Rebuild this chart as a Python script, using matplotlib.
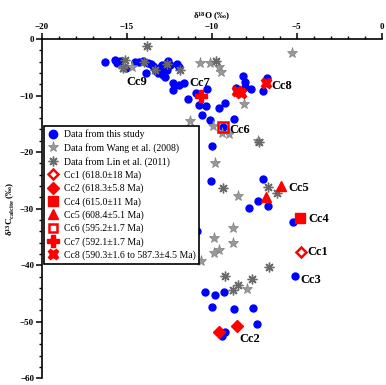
import matplotlib
matplotlib.use("Agg")
import matplotlib.pyplot as plt
from matplotlib.ticker import MultipleLocator
from matplotlib.lines import Line2D

plt.rcParams['font.family'] = ['Liberation Serif', 'DejaVu Serif']
plt.rcParams['mathtext.fontset'] = 'custom'
plt.rcParams['mathtext.rm'] = 'Liberation Serif'
plt.rcParams['mathtext.bf'] = 'Liberation Serif:bold'

# Data from this study
study_x = [-16.3, -15.7, -15.55, -15.4, -15.05, -14.5, -14.3, -14.05, -13.85, -13.75,
           -13.6, -13.45, -13.35, -13.25, -13.15, -13.05, -13.0, -12.9, -12.95, -12.85,
           -12.75, -12.65, -12.65, -12.6, -12.45, -12.05, -11.95, -12.3, -11.95, -11.65,
           -12.25, -11.4, -10.95, -10.75, -10.35, -10.6, -10.1, -10.25, -9.55, -9.2,
           -8.67, -8.14, -8.05, -8.05, -7.7, -7.0, -6.76, -8.55, -9.32, -9.96,
           -10.06, -6.96, -7.8, -7.26, -6.67, -10.88, -5.2, -5.1, -10.4, -9.8,
           -9.28, -10.0, -8.67, -7.59, -7.35, -9.22, -9.41]
study_y = [-4.1, -3.8, -4.3, -3.85, -5.2, -4.0, -4.0, -3.85, -5.95, -4.2,
           -4.5, -4.8, -5.2, -5.65, -6.05, -5.2, -4.9, -5.8, -4.6, -6.35,
           -6.65, -5.5, -4.3, -3.85, -4.6, -4.45, -5.0, -7.7, -8.1, -7.75,
           -9.0, -10.65, -9.6, -11.65, -11.85, -13.4, -14.3, -8.9, -12.25, -11.35,
           -14.2, -6.5, -7.55, -8.45, -8.9, -9.2, -6.95, -8.7, -15.5, -18.85,
           -25.1, -24.8, -29.8, -28.6, -29.45, -33.9, -32.3, -41.9, -44.8, -45.2,
           -44.7, -47.4, -47.8, -47.6, -50.4, -51.9, -52.6]

# Data from Wang et al. (2008)
wang_x = [-15.2, -14.7, -10.7, -10.1, -9.6, -9.45, -5.26, -8.1, -11.3, -9.9,
          -9.4, -9.0, -7.26, -9.8, -8.48, -8.73, -9.85, -8.77, -9.6, -9.85,
          -10.65, -7.9]
wang_y = [-5.2, -4.9, -4.3, -4.3, -4.9, -5.8, -2.4, -11.55, -14.5, -15.4,
          -16.7, -16.8, -18.1, -21.85, -27.8, -33.4, -35.2, -36.1, -37.3, -37.8,
          -39.3, -44.2]

# Data from Lin et al. (2011)
lin_x = [-13.82, -15.1, -15.2, -14.0, -13.35, -12.65, -11.86, -9.75, -7.22, -9.33,
         -6.71, -6.14, -6.63, -9.22, -7.65, -8.43, -8.73]
lin_y = [-1.2, -3.7, -5.1, -4.0, -5.5, -4.5, -5.5, -3.9, -18.2, -26.4,
         -26.1, -27.3, -40.3, -41.9, -42.4, -43.5, -44.35]

# Dated samples
cc1_x, cc1_y = [-4.76], [-37.6]
cc2_x, cc2_y = [-9.55, -8.53], [-51.9, -50.8]
cc4_x, cc4_y = [-4.8], [-31.6]
cc5_x, cc5_y = [-5.94, -6.82], [-26.0, -28.0]
cc6_x, cc6_y = [-9.32], [-15.5]
cc7_x, cc7_y = [-10.63], [-10.0]
cc8_x, cc8_y = [-8.5, -8.3, -6.8], [-9.2, -9.6, -7.8]

# Sample labels
lab_text = ['Cc9', 'Cc7', 'Cc8', 'Cc6', 'Cc5', 'Cc4', 'Cc1', 'Cc3', 'Cc2']
lab_x = [-14.4, -10.73, -5.88, -8.33, -4.86, -3.73, -3.79, -4.18, -7.75]
lab_y = [-7.65, -7.83, -8.3, -16.1, -26.3, -31.9, -37.6, -42.6, -53.1]

legend_labels = ['Data from this study', 'Data from Wang et al. (2008)',
                 'Data from Lin et al. (2011)', 'Cc1 (618.0\u00b118 Ma)',
                 'Cc2 (618.3\u00b15.8 Ma)', 'Cc4 (615.0\u00b111 Ma)',
                 'Cc5 (608.4\u00b15.1 Ma)', 'Cc6 (595.2\u00b11.7 Ma)',
                 'Cc7 (592.1\u00b11.7 Ma)', 'Cc8 (590.3\u00b11.6 to 587.3\u00b14.5 Ma)']

fig = plt.figure(figsize=(3.86, 3.85), dpi=100)
ax = fig.add_axes([0.108, 0.0174, 0.881, 0.8813])

blue = '#0000ff'
grey = '#999999'
red = '#ff0000'
ast_marker = (8, 2, 0)

ax.plot(study_x, study_y, 'o', ms=5, color=blue, mec=blue, ls='none', zorder=3)
ax.plot(wang_x, wang_y, '*', ms=8, color=grey, mec='#808080', mew=0.5, ls='none', zorder=4)
ax.plot(lin_x, lin_y, marker=ast_marker, ms=7, color='#555555', mec='#6a6a6a', mew=1.0, ls='none', zorder=4)

ax.plot(cc1_x, cc1_y, 'D', ms=5, mfc='white', mec=red, mew=1.8, ls='none', zorder=6)
ax.plot(cc2_x, cc2_y, 'D', ms=6, color=red, ls='none', zorder=6)
ax.plot(cc4_x, cc4_y, 's', ms=7.5, color=red, ls='none', zorder=6)
ax.plot(cc5_x, cc5_y, '^', ms=7.5, color=red, ls='none', zorder=6)
ax.plot(cc6_x, cc6_y, 's', ms=7, mfc='none', mec=red, mew=1.8, ls='none', zorder=6)
ax.plot(cc7_x, cc7_y, 'P', ms=8, color=red, ls='none', zorder=6)
ax.plot(cc8_x, cc8_y, 'X', ms=7.5, color=red, ls='none', zorder=6)

for t, x, y in zip(lab_text, lab_x, lab_y):
    ax.text(x, y, t, fontsize=9, fontweight='bold', ha='center', va='center', zorder=7)

ax.set_xlim(-20, 0)
ax.set_ylim(-60, 0)
ax.xaxis.tick_top()
ax.xaxis.set_label_position('top')
ax.spines['right'].set_visible(False)
ax.spines['bottom'].set_visible(False)
for s in ('top', 'left'):
    ax.spines[s].set_linewidth(1.2)
ax.xaxis.set_major_locator(MultipleLocator(5))
ax.xaxis.set_minor_locator(MultipleLocator(1))
ax.yaxis.set_major_locator(MultipleLocator(10))
ax.yaxis.set_minor_locator(MultipleLocator(2))
ax.tick_params(which='major', length=4, width=1.1, labelsize=6.5, pad=1.5)
ax.tick_params(which='minor', length=2.2, width=1.0)
for lbl in ax.get_xticklabels() + ax.get_yticklabels():
    lbl.set_fontweight('bold')

ax.set_xlabel(r'$\mathbf{\delta^{18}O}$ (‰)', fontsize=6.5, fontweight='bold', labelpad=3)
ax.set_ylabel(r'$\mathbf{\delta^{13}C_{calcite}}$ (‰)', fontsize=6.5, fontweight='bold', labelpad=2)

handles = [
    Line2D([], [], marker='o', ls='none', ms=6, color=blue),
    Line2D([], [], marker='*', ls='none', ms=8, color=grey, mec='#808080', mew=0.5),
    Line2D([], [], marker=ast_marker, ls='none', ms=7, color='#555555', mec='#6a6a6a', mew=1.0),
    Line2D([], [], marker='D', ls='none', ms=5, mfc='white', mec=red, mew=1.8),
    Line2D([], [], marker='D', ls='none', ms=6, color=red),
    Line2D([], [], marker='s', ls='none', ms=6.5, color=red),
    Line2D([], [], marker='^', ls='none', ms=7, color=red),
    Line2D([], [], marker='s', ls='none', ms=6, mfc='white', mec=red, mew=1.8),
    Line2D([], [], marker='P', ls='none', ms=8, color=red),
    Line2D([], [], marker='X', ls='none', ms=7.5, color=red),
]
leg = ax.legend(handles, legend_labels, loc='upper left', bbox_to_anchor=(0.007, 0.744),
                borderaxespad=0, fontsize=7, frameon=True, fancybox=False,
                edgecolor='black', framealpha=1, labelspacing=0.38, handlelength=1.0,
                handletextpad=0.6, borderpad=0.4)
leg.get_frame().set_linewidth(1.2)
leg.set_zorder(8)

fig.savefig('out.png', dpi=100)
